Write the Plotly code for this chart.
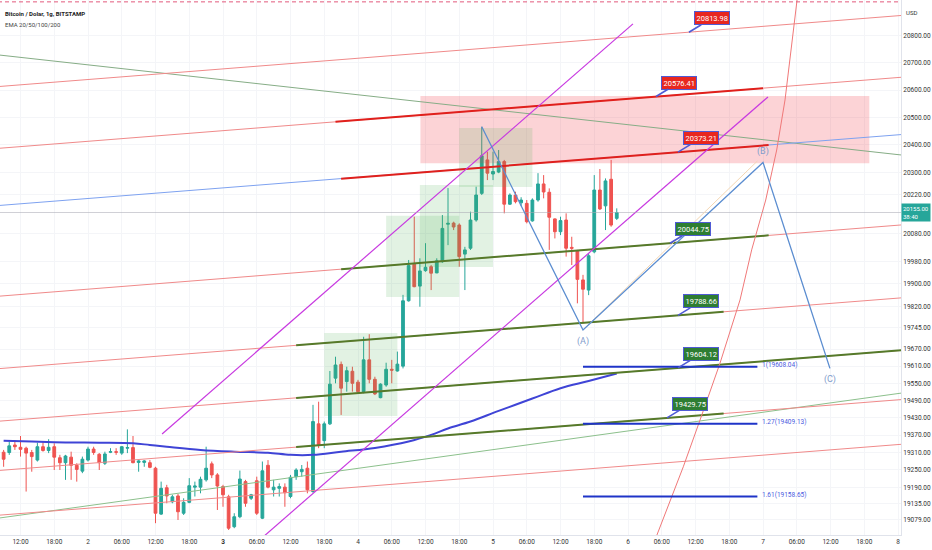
import math
import pandas as pd
import plotly.graph_objects as go

# BTC/USD 1h candles, Bitstamp, 2022-10-01 09:00 .. 2022-10-05 22:00
candle_start = "2022-10-01 09:00"
opens = [19311, 19310, 19336, 19328, 19325, 19310, 19284, 19330, 19317, 19330,
         19292, 19275, 19294, 19266, 19246, 19284, 19322, 19304, 19273, 19311,
         19313, 19308, 19325, 19327, 19276, 19276, 19275, 19256, 19099, 19189,
         19141, 19161, 19102, 19139, 19191, 19191, 19216, 19271, 19233, 19193,
         19158, 19056, 19090, 19210, 19153, 19213, 19085, 19266, 19182, 19187,
         19191, 19159, 19227, 19244, 19256, 19176, 19409, 19351, 19409, 19568,
         19616, 19556, 19592, 19554, 19521, 19632, 19564, 19500, 19544, 19599,
         19593, 19610, 19840, 19970, 19892, 19947, 19961, 19939, 19979, 20113,
         20117, 20110, 20006, 20027, 20128, 20224, 20345, 20294, 20301, 20339,
         20185, 20218, 20190, 20188, 20125, 20200, 20258, 20228, 20132, 20086,
         20128, 20030, 20018, 19914, 19878, 20014, 20236, 20179, 20275, 20134]
highs = [19319, 19347, 19353, 19367, 19330, 19319, 19344, 19347, 19356, 19342,
         19302, 19302, 19313, 19273, 19296, 19330, 19330, 19308, 19313, 19325,
         19325, 19332, 19390, 19367, 19284, 19284, 19284, 19261, 19210, 19199,
         19165, 19168, 19153, 19222, 19210, 19227, 19330, 19279, 19239, 19199,
         19165, 19102, 19248, 19216, 19168, 19227, 19279, 19284, 19216, 19204,
         19204, 19233, 19256, 19267, 19279, 19475, 19486, 19417, 19593, 19643,
         19626, 19608, 19608, 19562, 19713, 19722, 19573, 19550, 19622, 19632,
         19661, 19861, 19985, 20140, 19991, 20045, 19967, 19991, 20146, 20243,
         20122, 20116, 20032, 20158, 20248, 20466, 20375, 20375, 20381, 20345,
         20224, 20230, 20210, 20200, 20206, 20297, 20290, 20242, 20134, 20140,
         20152, 20068, 20021, 19932, 20009, 20290, 20312, 20278, 20345, 20170]
lows = [19261, 19302, 19319, 19296, 19176, 19244, 19279, 19313, 19308, 19250,
        19250, 19216, 19216, 19210, 19239, 19279, 19302, 19250, 19267, 19308,
        19302, 19302, 19308, 19273, 19244, 19261, 19256, 19068, 19096, 19136,
        19136, 19079, 19096, 19136, 19159, 19170, 19210, 19222, 19113, 19124,
        19045, 19051, 19085, 19124, 19147, 19096, 19082, 19187, 19159, 19159,
        19124, 19153, 19216, 19227, 19170, 19172, 19325, 19325, 19405, 19550,
        19440, 19521, 19521, 19515, 19515, 19550, 19509, 19498, 19538, 19550,
        19591, 19602, 19837, 19888, 19819, 19943, 19878, 19938, 19975, 20038,
        20092, 19961, 19878, 20021, 20122, 20218, 20272, 20272, 20297, 20152,
        20182, 20188, 20178, 20116, 20122, 20194, 20206, 20021, 20062, 20074,
        19997, 19967, 19831, 19761, 19860, 20009, 20164, 20092, 20104, 20128]
closes = [19287, 19333, 19330, 19321, 19308, 19296, 19330, 19317, 19328, 19294,
          19275, 19298, 19266, 19252, 19287, 19322, 19310, 19275, 19305, 19313,
          19311, 19330, 19327, 19275, 19281, 19281, 19259, 19102, 19187, 19161,
          19158, 19107, 19139, 19196, 19195, 19218, 19256, 19233, 19195, 19165,
          19051, 19090, 19219, 19136, 19165, 19102, 19247, 19191, 19191, 19193,
          19172, 19225, 19250, 19252, 19182, 19417, 19336, 19409, 19547, 19614,
          19533, 19594, 19550, 19521, 19632, 19564, 19513, 19547, 19599, 19596,
          19617, 19840, 19965, 19890, 19946, 19959, 19938, 19982, 20098, 20116,
          20103, 19997, 20021, 20128, 20218, 20360, 20297, 20303, 20339, 20185,
          20218, 20194, 20200, 20122, 20200, 20258, 20229, 20138, 20086, 20126,
          20027, 20027, 19916, 19881, 20000, 20236, 20168, 20269, 20110, 20155]
last_price = 20155

# EMA line
ema_times = ["2022-10-01 09:00", "2022-10-01 14:00", "2022-10-01 20:00", "2022-10-02 02:00",
             "2022-10-02 08:00", "2022-10-02 11:00", "2022-10-02 14:00", "2022-10-02 20:00",
             "2022-10-03 02:00", "2022-10-03 08:00", "2022-10-03 12:00", "2022-10-03 16:00",
             "2022-10-03 21:00", "2022-10-04 03:00", "2022-10-04 09:00", "2022-10-04 13:00",
             "2022-10-04 16:00", "2022-10-04 20:00", "2022-10-05 01:00", "2022-10-05 07:00",
             "2022-10-05 12:00", "2022-10-05 17:00", "2022-10-05 22:00"]
ema_values = [19351, 19348, 19345, 19344, 19342, 19336, 19330, 19319, 19313, 19309,
              19302, 19302, 19313, 19326, 19348, 19371, 19393, 19417, 19454, 19497,
              19533, 19558, 19584]

# channel lines spanning the whole view
view_t0 = "2022-10-01 08:00"
view_t1 = "2022-10-08 01:00"
red_channel = [(20613, 20877), (20387, 20648), (19856, 20111), (19601, 19851),
               (19418, 19666), (19248, 19494), (19095, 19339)]
blue_channel = (20180, 20438)
green_down = (20730, 20362)
green_up = (19085, 19517)

# thick segments on the channel levels: (t0, p0, t1, p1)
red_levels = [("2022-10-03 20:00", 20484, "2022-10-07 00:00", 20607),
              ("2022-10-03 21:00", 20277, "2022-10-07 01:00", 20399)]
green_levels = [("2022-10-03 21:00", 19952, "2022-10-07 01:00", 20073),
                ("2022-10-03 13:00", 19683, "2022-10-06 17:00", 19801),
                ("2022-10-03 13:00", 19499, "2022-10-08 01:00", 19666),
                ("2022-10-03 13:00", 19329, "2022-10-06 17:00", 19445)]

# rising parallel channel (magenta)
magenta_lines = [("2022-10-02 13:10", 19374, "2022-10-06 00:53", 20845),
                 ("2022-10-03 07:07", 19021, "2022-10-07 00:53", 20575)]

# steep red arc
arc_times = ["2022-10-06 04:48", "2022-10-06 06:53", "2022-10-06 09:50", "2022-10-06 12:48",
             "2022-10-06 16:21", "2022-10-06 19:55", "2022-10-06 21:59", "2022-10-07 00:29",
             "2022-10-07 02:26", "2022-10-07 03:55", "2022-10-07 06:16"]
arc_prices = [19011, 19113, 19261, 19422, 19620, 19843, 20021, 20200, 20381, 20564, 20971]

top_dashed = 20927

# zones: (t0, t1, p_low, p_high)
red_zone = ("2022-10-04 11:06", "2022-10-07 18:54", 20333, 20578)
green_zones = [("2022-10-03 18:00", "2022-10-04 07:00", 19436, 19726),
               ("2022-10-04 05:00", "2022-10-04 18:00", 19853, 20143),
               ("2022-10-04 11:00", "2022-10-05 00:00", 19960, 20254),
               ("2022-10-04 18:00", "2022-10-05 07:00", 20247, 20461)]

# ABC wave
wave_times = ["2022-10-04 22:00", "2022-10-05 16:00", "2022-10-07 00:00", "2022-10-07 11:54"]
wave_prices = [20466, 19737, 20336, 19602]
wave_labels = [("(A)", "2022-10-05 16:00", 19698), ("(B)", "2022-10-07 00:00", 20377),
               ("(C)", "2022-10-07 11:54", 19562)]

# fib extension levels
fib_t0 = "2022-10-05 16:00"
fib_t1 = "2022-10-06 23:00"
fib_ratios = ["1", "1.27", "1.61"]
fib_prices = [19608.04, 19409.13, 19158.65]

# price labels: (text, anchor time, colour)
price_tags = [("20813.98", "2022-10-06 10:50", "red"), ("20576.41", "2022-10-06 04:59", "red"),
              ("20373.21", "2022-10-06 08:53", "red"), ("20044.75", "2022-10-06 07:28", "green"),
              ("19788.66", "2022-10-06 08:53", "green"), ("19604.12", "2022-10-06 08:53", "green"),
              ("19429.75", "2022-10-06 06:56", "green")]

y_ticks = [20800, 20700, 20600, 20500, 20400, 20300, 20220, 20080, 19980, 19900, 19820,
           19745, 19670, 19610, 19550, 19490, 19430, 19370, 19310, 19250, 19190, 19135, 19079]
x_tick_times = pd.date_range("2022-10-01 12:00", "2022-10-08 00:00", freq="6h")
x_tick_text = ["12:00", "18:00", "2", "06:00", "12:00", "18:00", "<b>3</b>", "06:00", "12:00",
               "18:00", "4", "06:00", "12:00", "18:00", "5", "06:00", "12:00", "18:00", "6",
               "06:00", "12:00", "18:00", "7", "06:00", "12:00", "18:00", "8"]

UP = "#26a69a"
DOWN = "#ef5350"
THIN_RED = "#f08a8a"

fig = go.Figure()


def seg(x, y, color, width, dash=None):
    fig.add_trace(go.Scatter(x=x, y=y, mode="lines", hoverinfo="skip", showlegend=False,
                             line=dict(color=color, width=width, dash=dash)))


def box(t0, t1, lo, hi, fill):
    fig.add_trace(go.Scatter(x=[t0, t1, t1, t0, t0], y=[lo, lo, hi, hi, lo], mode="lines",
                             fill="toself", fillcolor=fill, line=dict(width=0),
                             hoverinfo="skip", showlegend=False))


# zones
box(*red_zone, "rgba(242,54,69,0.22)")
for z in green_zones:
    box(*z, "rgba(76,175,80,0.16)")

# candles
times = pd.date_range(candle_start, periods=len(opens), freq="h")
fig.add_trace(go.Candlestick(
    x=times, open=opens, high=highs, low=lows, close=closes,
    increasing=dict(line=dict(color=UP, width=1), fillcolor=UP),
    decreasing=dict(line=dict(color=DOWN, width=1), fillcolor=DOWN),
    hoverinfo="skip", showlegend=False))

fig.add_trace(go.Scatter(x=ema_times, y=ema_values, mode="lines", hoverinfo="skip",
                         showlegend=False, line=dict(color="#3f44d6", width=2, shape="spline")))

# trend / channel lines
seg([view_t0, view_t1], list(green_down), "#86ad86", 1)
seg([view_t0, view_t1], list(green_up), "#8cc08c", 1)
seg([view_t0, view_t1], list(blue_channel), "#7ea2f0", 1)
for p0, p1 in red_channel:
    seg([view_t0, view_t1], [p0, p1], THIN_RED, 1)
for t0, p0, t1, p1 in red_levels:
    seg([t0, t1], [p0, p1], "#e0201c", 2)
for t0, p0, t1, p1 in green_levels:
    seg([t0, t1], [p0, p1], "#557a2a", 2)
for t0, p0, t1, p1 in magenta_lines:
    seg([t0, t1], [p0, p1], "#c83ae0", 1.2)
seg(arc_times, arc_prices, "#f07878", 1)
seg([view_t0, view_t1], [top_dashed, top_dashed], "#e25a7c", 1, dash="4px,3px")
seg([view_t0, view_t1], [last_price, last_price], "rgba(170,170,180,0.55)", 1)

# wave
seg([wave_times[1], "2022-10-06 23:00"], [wave_prices[1], 20341], "#f3d6b3", 1)
seg(wave_times, wave_prices, "#5b8dd0", 1.3)

# fib levels
for p in fib_prices:
    seg([fib_t0, fib_t1], [p, p], "#1f34c8", 2)

annotations = []
for r, p in zip(fib_ratios, fib_prices):
    annotations.append(dict(x=fib_t1, y=math.log10(p), text=f"{r}({p:.2f})", showarrow=False,
                            xanchor="left", yanchor="bottom", xshift=3, yshift=-4,
                            font=dict(size=6.5, color="#4b5be0")))
for txt, t, p in wave_labels:
    annotations.append(dict(x=t, y=math.log10(p), text=txt, showarrow=False,
                            font=dict(size=9, color="#7f9ccc")))
for txt, t, col in price_tags:
    annotations.append(dict(x=t, y=math.log10(float(txt)), text=txt, showarrow=True,
                            arrowhead=0, arrowwidth=1.6, arrowcolor="#4f5bd5", ax=23, ay=-14,
                            bgcolor="#e8271f" if col == "red" else "#2e7d32",
                            bordercolor="#4f5bd5", borderwidth=1, borderpad=1.5,
                            font=dict(size=7.5, color="white")))
annotations.append(dict(x=1, xref="paper", y=math.log10(last_price), text="20155.00<br>38:40",
                        showarrow=False, xanchor="left", bgcolor=UP, borderpad=1,
                        font=dict(size=6, color="white"), align="left"))
annotations.append(dict(x=1, xref="paper", xanchor="left", xshift=3, y=0.987, yref="paper",
                        text="USD", showarrow=False, font=dict(size=6, color="#333")))
annotations.append(dict(x=0.003, xref="paper", xanchor="left", y=0.985, yref="paper",
                        text="<b>Bitcoin / Dolar, 1g, BITSTAMP</b>", showarrow=False,
                        font=dict(size=6, color="#222")))
annotations.append(dict(x=0.003, xref="paper", xanchor="left", y=0.964, yref="paper",
                        text="EMA 20/50/100/200", showarrow=False,
                        font=dict(size=6, color="#444")))

y_lo, y_hi = 19027.9, 20934.0
fig.update_layout(
    width=932, height=550,
    margin=dict(l=0, r=31, t=0, b=15),
    paper_bgcolor="white", plot_bgcolor="white",
    font=dict(family="Roboto", color="#333"),
    hovermode=False, showlegend=False,
    annotations=annotations,
    xaxis=dict(type="date", range=["2022-10-01 08:21:20", "2022-10-08 00:32:00"],
               rangeslider=dict(visible=False), tickmode="array",
               tickvals=list(x_tick_times), ticktext=x_tick_text,
               tickfont=dict(size=6.5, color="#333"), showgrid=True, gridcolor="#f4f5f8",
               showline=True, linecolor="#e0e3eb", ticks="", zeroline=False),
    yaxis=dict(type="log", range=[math.log10(y_lo), math.log10(y_hi)], side="right",
               tickmode="array", tickvals=y_ticks, ticktext=[f"{v:.2f}" for v in y_ticks],
               tickfont=dict(size=6.5, color="#333"), showgrid=True, gridcolor="#f4f5f8",
               showline=True, linecolor="#e0e3eb", ticks="", zeroline=False),
)

# page body has an 8px default margin; drop it so the figure fills the window
fig.write_html("out.html", config={"displayModeBar": False},
               post_script="document.body.style.margin='0';document.body.style.overflow='hidden';")
